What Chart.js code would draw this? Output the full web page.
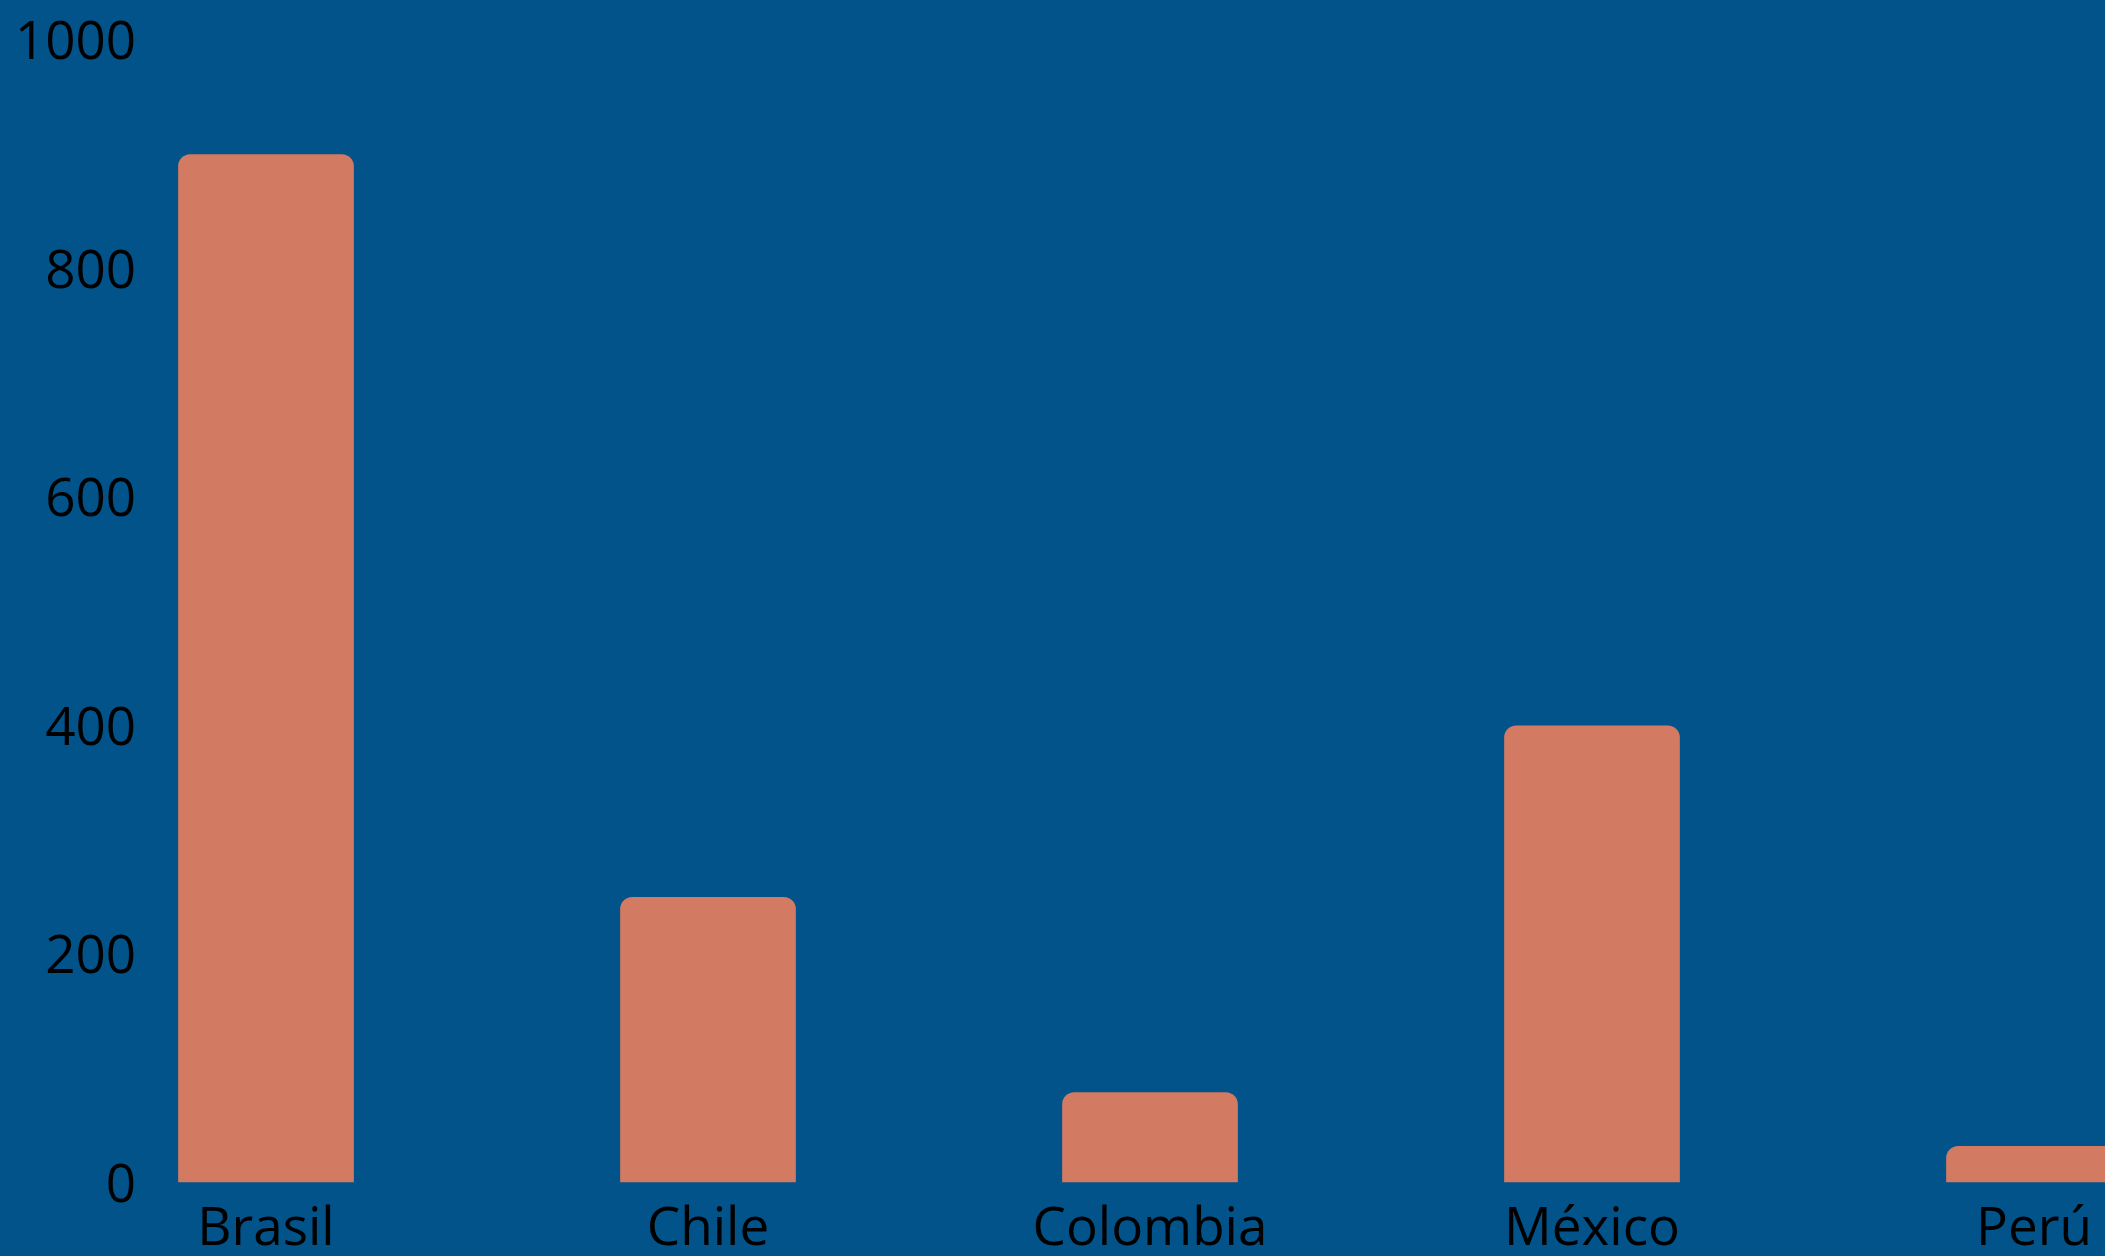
<!DOCTYPE html>
<html lang="es">
<head>
<meta charset="utf-8">
<title>Países</title>
<script src="https://cdn.jsdelivr.net/npm/chart.js@4.4.1/dist/chart.umd.min.js"></script>
<style>
	html, body {
		margin: 0;
		padding: 0;
		overflow: hidden;
		background: #01538a;
	}
	#wrap {
		position: absolute;
		left: 0;
		top: 0;
	}
</style>
</head>
<body>
<div id="wrap">
	<canvas id="chart" width="2255" height="1300"></canvas>
</div>
<script>
	const countries = ['Brasil', 'Chile', 'Colombia', 'México', 'Perú'];
	const values = [900, 250, 79, 400, 32];
	const yMin = 0;
	const yMax = 1000;
	const yStep = 200;

	const barColor = '#d37a62';
	const textColor = '#000';
	const fontFamily = '"Open Sans", "Noto Sans", sans-serif';

	new Chart('chart', {
		type: 'bar',
		data: {
			labels: countries,
			datasets: [{
				data: values,
				backgroundColor: barColor,
				borderWidth: 0,
				borderRadius: 12,
				barPercentage: 0.5,
				categoryPercentage: 0.795
			}]
		},
		options: {
			responsive: false,
			animation: false,
			layout: {
				padding: { top: 40, left: 45, right: 0, bottom: 0 }
			},
			plugins: {
				legend: { display: false },
				tooltip: { enabled: false }
			},
			scales: {
				x: {
					grid: { display: false, drawTicks: false },
					border: { display: false },
					ticks: {
						color: textColor,
						padding: 16,
						font: { family: fontFamily, size: 53 }
					},
					afterFit: (scale) => { scale.height = 117.5; }
				},
				y: {
					// the value axis sits over the plot, just left of the first bar
					position: { x: -0.294 },
					min: yMin,
					max: yMax,
					grid: { display: false, drawTicks: false },
					border: { display: false },
					ticks: {
						stepSize: yStep,
						color: textColor,
						padding: 0,
						labelOffset: 4,
						font: { family: fontFamily, size: 53 },
						callback: (value) => String(value)
					}
				}
			}
		}
	});
</script>
</body>
</html>
